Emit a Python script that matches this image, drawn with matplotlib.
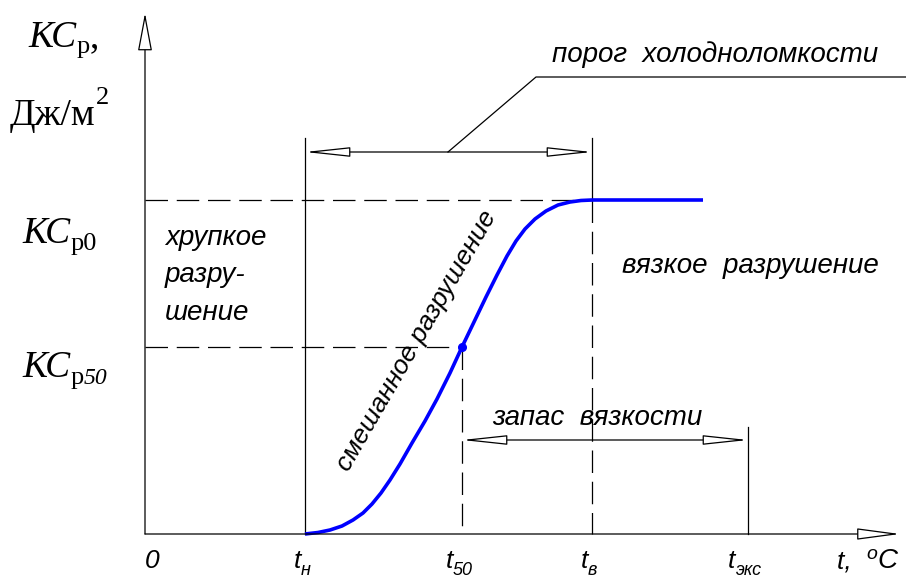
import matplotlib.pyplot as plt

# schematic units: 1 unit = 1 px of the 906x580 picture, origin at axes corner
t_marks = [160, 317, 447, 603]          # t_н, t_50, t_в, t_экс
t_subs = ['н', '50', 'в', 'экс']
kc_p0 = 334
kc_p50 = 187

# transition curve
curve_t = [160, 173, 185, 197, 208, 218, 227, 236, 245, 255, 267, 280, 292, 305, 317,
           329, 341, 352, 362, 371, 380, 390, 401, 413, 425, 436, 447, 558]
curve_kc = [0, 1.5, 4, 8, 14, 21, 30, 41, 54, 70, 91, 113, 135, 161, 187,
            212, 237, 259, 278, 293, 305, 315, 323, 329, 332, 333.5, 334, 334]

fig = plt.figure(figsize=(9.06, 5.8), dpi=100)
ax = fig.add_axes([0, 0, 1, 1])
ax.set_xlim(-145, 761)
ax.set_ylim(-46, 534)
ax.axis('off')
renderer = fig.canvas.get_renderer()

SANS = 'Liberation Sans'
SERIF = 'Liberation Serif'
LW = 0.9
DASH = (18, 7)


def arrow(p_from, p_to, style):
    ax.annotate('', xy=p_to, xytext=p_from,
                arrowprops=dict(arrowstyle=style, fc='white', ec='black', lw=LW,
                                shrinkA=0, shrinkB=0, mutation_scale=10))


def compound(x, y, pieces, align='left'):
    # pieces: (text, size, font kwargs, vertical shift)
    objs, widths = [], []
    for txt, size, kw, dy in pieces:
        t = ax.text(0, y + dy, txt, fontsize=size, va='baseline', ha='left', **kw)
        objs.append(t)
        widths.append(t.get_window_extent(renderer).width)
    total = sum(widths)
    start = {'left': x, 'center': x - total / 2, 'right': x - total}[align]
    for t, w in zip(objs, widths):
        t.set_x(start)
        start += w


# axes with hollow arrows
arrow((0, 0), (0, 521), '-|>,head_length=2.4,head_width=0.45')
arrow((0, 0), (755, 0), '-|>,head_length=2.7,head_width=0.36')

t_n, t_50, t_v, t_eks = t_marks

# dashed level lines
ax.plot([0, t_v], [kc_p0, kc_p0], color='black', lw=LW, dashes=DASH)
ax.plot([0, t_50], [kc_p50, kc_p50], color='black', lw=LW, dashes=DASH)
ax.plot([t_50, t_50], [kc_p50, 0], color='black', lw=LW, dashes=DASH)
ax.plot([t_v, t_v], [kc_p0, 0], color='black', lw=LW, dashes=DASH)

# extension lines
ax.plot([t_n, t_n], [0, 396], color='black', lw=LW)
ax.plot([t_v, t_v], [kc_p0, 396], color='black', lw=LW)
ax.plot([t_eks, t_eks], [0, 107], color='black', lw=LW)

# dimension lines
arrow((t_n, 382), (t_v, 382), '<|-|>,head_length=2.8,head_width=0.3')
arrow((t_50, 94), (t_eks, 94), '<|-|>,head_length=2.8,head_width=0.3')

# leader to the caption
ax.plot([303, 391, 761], [382, 457, 457], color='black', lw=LW)

# curve
ax.plot(curve_t, curve_kc, color='#0000ff', lw=2.6, solid_capstyle='butt',
        solid_joinstyle='round')
ax.plot([t_50], [kc_p50], 'o', color='#0000ff', ms=5.5)

# captions
it = dict(family=SANS, style='italic')
ax.text(407, 472, 'порог  холодноломкости', fontsize=20, va='baseline', **it)
ax.text(347, 109, 'запас  вязкости', fontsize=20, va='baseline', **it)
ax.text(477, 261, 'вязкое  разрушение', fontsize=20, va='baseline', **it)
for txt, yb in zip(['хрупкое', 'разру-', 'шение'], [289, 252, 214]):
    ax.text(20, yb, txt, fontsize=20, va='baseline', **it)
ax.text(272, 193, 'смешанное разрушение', fontsize=19, rotation=60,
        rotation_mode='anchor', ha='center', va='center', **it)

# y-axis labels (serif)
sit = dict(family=SERIF, style='italic')
srm = dict(family=SERIF)
compound(-117, 487, [('КС', 27, sit, 0), ('р', 19, srm, -6), (',', 27, srm, 0)])
compound(-135, 409, [('Дж/м', 27, srm, 0), ('2', 19, srm, 21)])
compound(-123, 291, [('КС', 27, sit, 0), ('р0', 19, srm, -7)])
compound(-123, 157, [('КС', 27, sit, 0), ('р', 19, srm, -7), ('50', 17, sit, -7)])

# x-axis labels
ax.text(7, -34, '0', fontsize=19, ha='center', va='baseline', **it)
for tm, sub in zip(t_marks, t_subs):
    compound(tm - 3, -34, [('t', 19, it, 0), (sub, 13, it, -7)], align='center')
compound(692, -34, [('t,  ', 19, it, 0), ('o', 14, it, 9), ('C', 20, it, 0)])

fig.savefig('out.png', dpi=100)
